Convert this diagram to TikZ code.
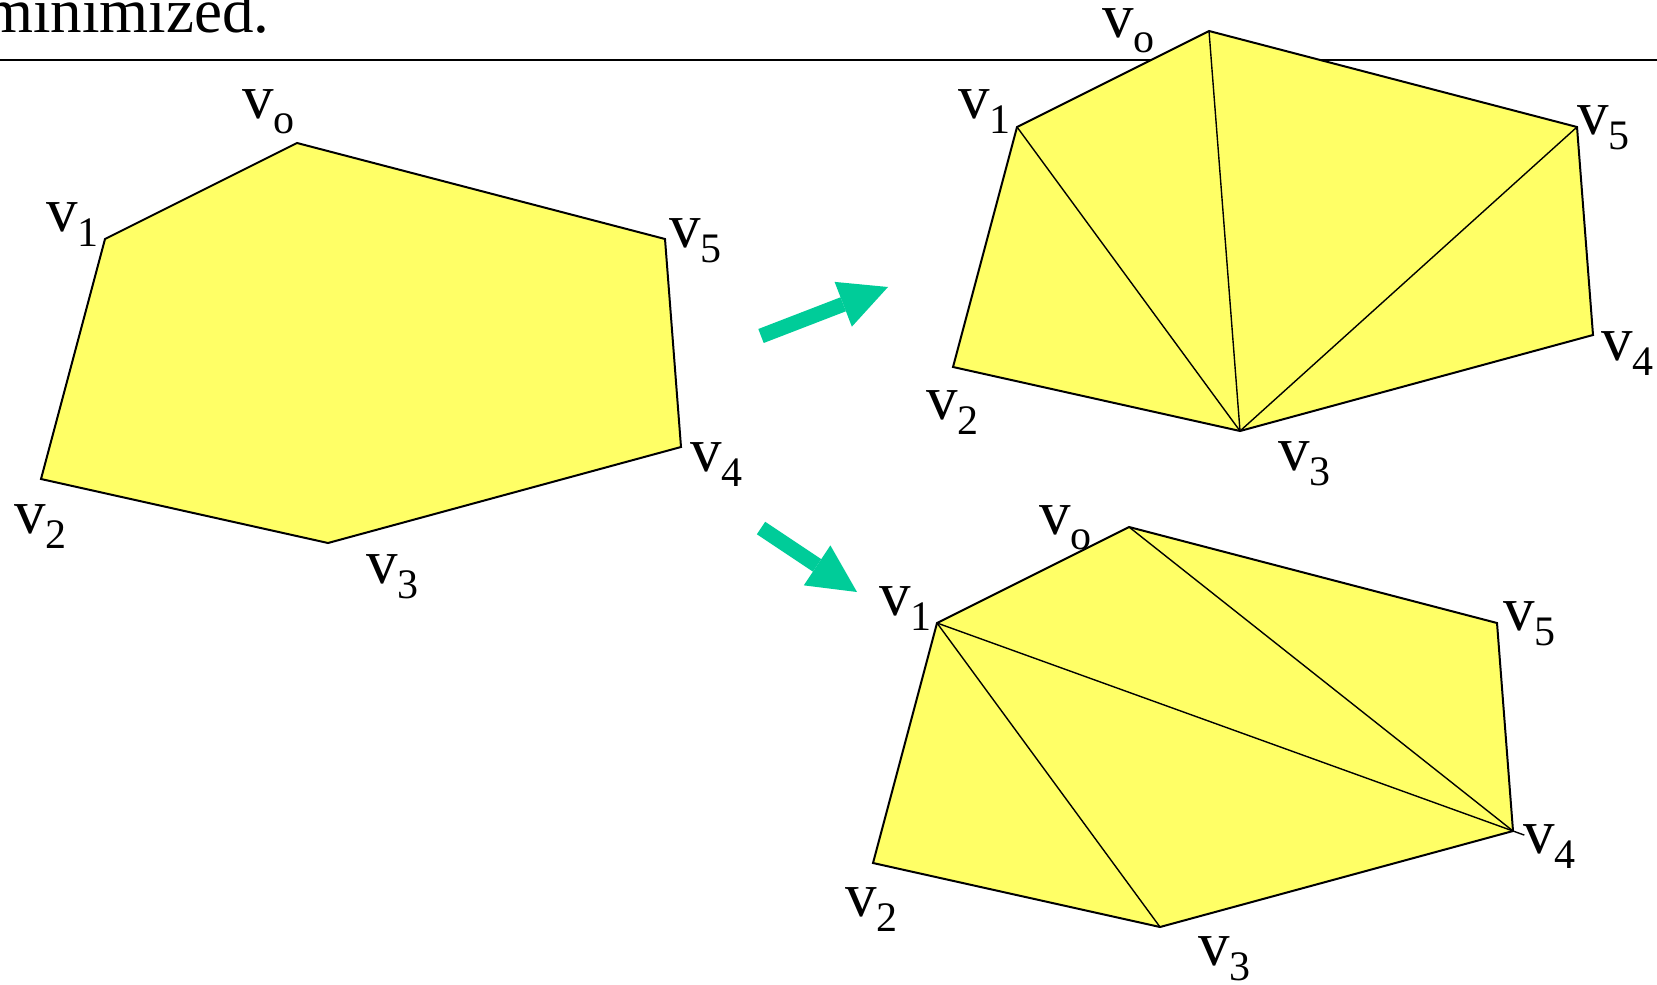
\documentclass[tikz,border=0pt]{standalone}
\usepackage{fontspec}
\setmainfont{Liberation Serif}
\usetikzlibrary{arrows.meta}
\definecolor{hexyellow}{RGB}{255,255,102}
\definecolor{arrowgreen}{RGB}{0,204,153}
% vertex label: v with a lowered small index
\newcommand{\vl}[1]{v\raisebox{-7.5pt}{\fontsize{21pt}{21pt}\selectfont #1}}

\begin{document}
\begin{tikzpicture}[x=0.5pt, y=-0.5pt,
    hexagon/.style={draw=black, line width=1pt, fill=hexyellow},
    diag/.style={draw=black, line width=0.7pt},
    vlabel/.style={anchor=base west, inner sep=0pt, font=\fontsize{31.5pt}{32pt}\selectfont},
    fatarrow/.style={draw=arrowgreen, line width=7.5pt,
        -{Triangle[length=24pt, width=24pt, line width=0pt]}}]

    \useasboundingbox (0,0) rectangle (1657,984);

    % Heading text and rule
    \node[vlabel] (head) at (-16,33) {minimized.};
    \draw[line width=1.3pt] (0,60) -- (1657,60);

    % Vertices of the left hexagon
    \coordinate (P0) at (297, 143);   % Top
    \coordinate (P1) at (105, 239);   % Top-left
    \coordinate (P2) at (41, 479);    % Bottom-left
    \coordinate (P3) at (328, 543);   % Bottom
    \coordinate (P4) at (681, 447);   % Bottom-right
    \coordinate (P5) at (665, 239);   % Top-right

    % Vertices of the upper right hexagon
    \coordinate (Q0) at (1209, 31);
    \coordinate (Q1) at (1017, 127);
    \coordinate (Q2) at (953, 367);
    \coordinate (Q3) at (1240, 431);
    \coordinate (Q4) at (1593, 335);
    \coordinate (Q5) at (1577, 127);

    % Vertices of the lower right hexagon
    \coordinate (R0) at (1129, 527);
    \coordinate (R1) at (937, 623);
    \coordinate (R2) at (873, 863);
    \coordinate (R3) at (1160, 927);
    \coordinate (R4) at (1513, 831);
    \coordinate (R5) at (1497, 623);

    % Draw the three hexagons
    \draw[hexagon] (P0) -- (P1) -- (P2) -- (P3) -- (P4) -- (P5) -- cycle;
    \draw[hexagon] (Q0) -- (Q1) -- (Q2) -- (Q3) -- (Q4) -- (Q5) -- cycle;
    \draw[hexagon] (R0) -- (R1) -- (R2) -- (R3) -- (R4) -- (R5) -- cycle;

    % Fan of diagonals from v3
    \draw[diag] (Q1) -- (Q3);
    \draw[diag] (Q0) -- (Q3);
    \draw[diag] (Q5) -- (Q3);

    % Zigzag of diagonals
    \draw[diag] (R1) -- (R3);
    \draw[diag, shorten >=-6pt] (R1) -- (R4);
    \draw[diag] (R0) -- (R4);

    % Green arrows
    \coordinate (up tail) at (761, 336);
    \coordinate (up tip) at (888, 287);
    \coordinate (down tail) at (761, 528);
    \coordinate (down tip) at (857, 592);
    \draw[fatarrow] (up tail) -- (up tip);
    \draw[fatarrow] (down tail) -- (down tip);

    % Label left hexagon
    \node[vlabel] (p0) at ([shift={(-55,-24)}]P0) {\vl{o}};
    \node[vlabel] (p1) at ([shift={(-59,-8)}]P1) {\vl{1}};
    \node[vlabel] (p2) at ([shift={(-27,54)}]P2) {\vl{2}};
    \node[vlabel] (p3) at ([shift={(38,40)}]P3) {\vl{3}};
    \node[vlabel] (p4) at ([shift={(9,24)}]P4) {\vl{4}};
    \node[vlabel] (p5) at ([shift={(4,8)}]P5) {\vl{5}};

    % Label upper right hexagon
    \node[vlabel] (q0) at ([shift={(-107,7)}]Q0) {\vl{o}};
    \node[vlabel] (q1) at ([shift={(-59,-8)}]Q1) {\vl{1}};
    \node[vlabel] (q2) at ([shift={(-27,52)}]Q2) {\vl{2}};
    \node[vlabel] (q3) at ([shift={(38,39)}]Q3) {\vl{3}};
    \node[vlabel] (q4) at ([shift={(8,25)}]Q4) {\vl{4}};
    \node[vlabel] (q5) at ([shift={(0,8)}]Q5) {\vl{5}};

    % Label lower right hexagon
    \node[vlabel] (r0) at ([shift={(-90,7)}]R0) {\vl{o}};
    \node[vlabel] (r1) at ([shift={(-58,-8)}]R1) {\vl{1}};
    \node[vlabel] (r2) at ([shift={(-28,53)}]R2) {\vl{2}};
    \node[vlabel] (r3) at ([shift={(38,38)}]R3) {\vl{3}};
    \node[vlabel] (r4) at ([shift={(10,22)}]R4) {\vl{4}};
    \node[vlabel] (r5) at ([shift={(6,7)}]R5) {\vl{5}};

\end{tikzpicture}
\end{document}
